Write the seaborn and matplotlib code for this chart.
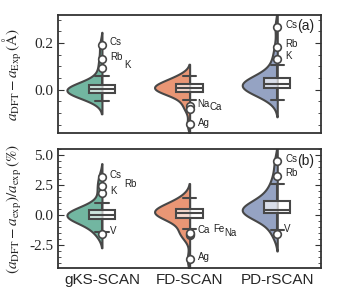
import pandas as pd
import matplotlib.pyplot as plt
import seaborn as sns
from matplotlib.ticker import MultipleLocator, FormatStrFormatter

sns.set_style('ticks')
plt.rcParams['font.family'] = 'serif'
plt.rcParams['font.serif'] = ['Liberation Serif', 'DejaVu Serif']
plt.rcParams['mathtext.fontset'] = 'stix'

methods = ['gKS-SCAN', 'FD-SCAN', 'PD-rSCAN']
colors = sns.color_palette('Set2', 3)

# (a) a_DFT - a_Exp (Angstrom), bulk of the set
gks_abs = [-0.047, -0.035, -0.028, -0.022, -0.019, -0.016, -0.014, -0.011, -0.008,
           -0.005, -0.002, 0.001, 0.003, 0.005, 0.007, 0.010, 0.013, 0.016, 0.020,
           0.026, 0.034, 0.061]
fd_abs = [-0.044, -0.030, -0.020, -0.011, -0.007, -0.004, -0.001, 0.002, 0.004,
          0.006, 0.008, 0.010, 0.012, 0.015, 0.019, 0.023, 0.028, 0.034, 0.041,
          0.048, 0.055, 0.061]
pd_abs = [-0.044, -0.025, -0.012, -0.004, 0.000, 0.003, 0.006, 0.009, 0.012, 0.015,
          0.018, 0.021, 0.024, 0.027, 0.030, 0.034, 0.038, 0.043, 0.049, 0.058,
          0.075, 0.107]
# labelled outliers
gks_abs_names, gks_abs_out = ['K', 'Rb', 'Cs'], [0.093, 0.133, 0.190]
fd_abs_names, fd_abs_out = ['Na', 'Ca', 'Ag'], [-0.069, -0.083, -0.147]
pd_abs_names, pd_abs_out = ['K', 'Rb', 'Cs'], [0.132, 0.183, 0.270]

# (b) relative error (%)
gks_rel = [-1.40, -0.95, -0.70, -0.55, -0.45, -0.36, -0.28, -0.20, -0.13, -0.07,
           -0.03, 0.00, 0.05, 0.10, 0.16, 0.23, 0.31, 0.42, 0.55, 0.72, 0.98]
fd_rel = [-1.20, -0.60, -0.30, -0.18, -0.08, 0.00, 0.06, 0.11, 0.15, 0.20, 0.25,
          0.30, 0.35, 0.40, 0.46, 0.55, 0.68, 0.85, 1.05, 1.25, 1.46]
pd_rel = [-1.26, -0.60, -0.25, -0.05, 0.06, 0.14, 0.20, 0.26, 0.31, 0.36, 0.40,
          0.45, 0.51, 0.58, 0.66, 0.78, 0.95, 1.20, 1.45, 1.75, 2.10, 2.58]
gks_rel_names, gks_rel_out = ['V', 'K', 'Rb', 'Cs'], [-1.63, 1.88, 2.44, 3.18]
fd_rel_names, fd_rel_out = ['Ag', 'Na', 'Fe', 'Ca'], [-3.73, -1.68, -1.62, -1.50]
pd_rel_names, pd_rel_out = ['V', 'Rb', 'Cs'], [-1.63, 3.31, 4.49]

# label offsets in pixels (dx, dy)
offs_a = [[(22, 3), (8, 2), (8, 3)], [(8, 2), (20, 2), (8, 1)], [(8, 3), (8, 3), (8, 2)]]
offs_b = [[(8, 3), (8, 2), (22, 2), (8, 2)], [(8, 2), (35, 2), (24, 5), (8, 3)],
          [(7, 5), (8, 3), (8, 2)]]

edge = '#474747'


def panel(ax, cores, outs, names, offs):
    frames = []
    for m, core, out in zip(methods, cores, outs):
        frames.append(pd.DataFrame({'method': m, 'val': core + out}))
    df = pd.concat(frames)
    df['side'] = 'L'
    for m, c in zip(methods, colors):
        sns.violinplot(data=df[df.method == m], x='method', y='val', order=methods,
                       hue='side', hue_order=['L', 'R'], palette={'L': c, 'R': c},
                       split=True, dodge=True, inner=None, linecolor=edge, linewidth=1.5,
                       density_norm='width', legend=False, ax=ax)
    sns.boxplot(data=df, x='method', y='val', order=methods, width=0.3, color='white',
                saturation=1, linecolor=edge, linewidth=1.5, fliersize=5.5,
                flierprops=dict(marker='o', markerfacecolor='white', markeredgecolor=edge,
                                markeredgewidth=1.2), ax=ax)
    for p in ax.patches:
        p.set_facecolor((1, 1, 1, 0.65))
    for i in range(3):
        for name, v, (dx, dy) in zip(names[i], outs[i], offs[i]):
            ax.annotate(name, xy=(i, v), xytext=(dx, dy), textcoords='offset pixels',
                        ha='left', va='center', fontsize=7, family='Liberation Sans',
                        color='#222222')
    ax.set_xlim(-0.5, 2.5)
    ax.set_xlabel('')
    ax.tick_params(axis='x', length=0)
    ax.tick_params(axis='y', which='both', direction='in', left=True, right=True,
                   color='#333333', labelsize=11)
    ax.tick_params(axis='y', which='major', length=4)
    ax.tick_params(axis='y', which='minor', length=2.5)
    for s in ax.spines.values():
        s.set_visible(True)
        s.set_color('#333333')
        s.set_linewidth(1.3)


fig, (ax1, ax2) = plt.subplots(2, 1, figsize=(3.38, 3.0), dpi=100)
fig.subplots_adjust(left=0.172, right=0.95, top=0.95, bottom=0.107, hspace=0.135)

panel(ax1, [gks_abs, fd_abs, pd_abs], [gks_abs_out, fd_abs_out, pd_abs_out],
      [gks_abs_names, fd_abs_names, pd_abs_names], offs_a)
panel(ax2, [gks_rel, fd_rel, pd_rel], [gks_rel_out, fd_rel_out, pd_rel_out],
      [gks_rel_names, fd_rel_names, pd_rel_names], offs_b)

ax1.set_ylim(-0.187, 0.32)
ax1.yaxis.set_major_locator(MultipleLocator(0.2))
ax1.yaxis.set_minor_locator(MultipleLocator(0.05))
ax1.yaxis.set_major_formatter(FormatStrFormatter('%.1f'))
ax1.set_xticklabels([])
ax1.set_ylabel(r'$a_{\rm DFT}-a_{\rm Exp}\,(\mathrm{\AA})$', fontsize=11)

ax2.set_ylim(-4.45, 5.5)
ax2.yaxis.set_major_locator(MultipleLocator(2.5))
ax2.yaxis.set_minor_locator(MultipleLocator(0.5))
ax2.yaxis.set_major_formatter(FormatStrFormatter('%.1f'))
ax2.set_xticks(range(3))
ax2.set_xticklabels(methods, fontsize=11, family='Liberation Sans')
ax2.set_ylabel(r'$(a_{\rm DFT}-a_{\rm exp})/a_{\rm exp}\,(\%)$', fontsize=11)

for ax, tag in [(ax1, '(a)'), (ax2, '(b)')]:
    ax.text(0.975, 0.965, tag, transform=ax.transAxes, ha='right', va='top',
            fontsize=10, family='Liberation Sans', color='#222222')

fig.align_ylabels([ax1, ax2])
fig.savefig('out.png', dpi=100)
